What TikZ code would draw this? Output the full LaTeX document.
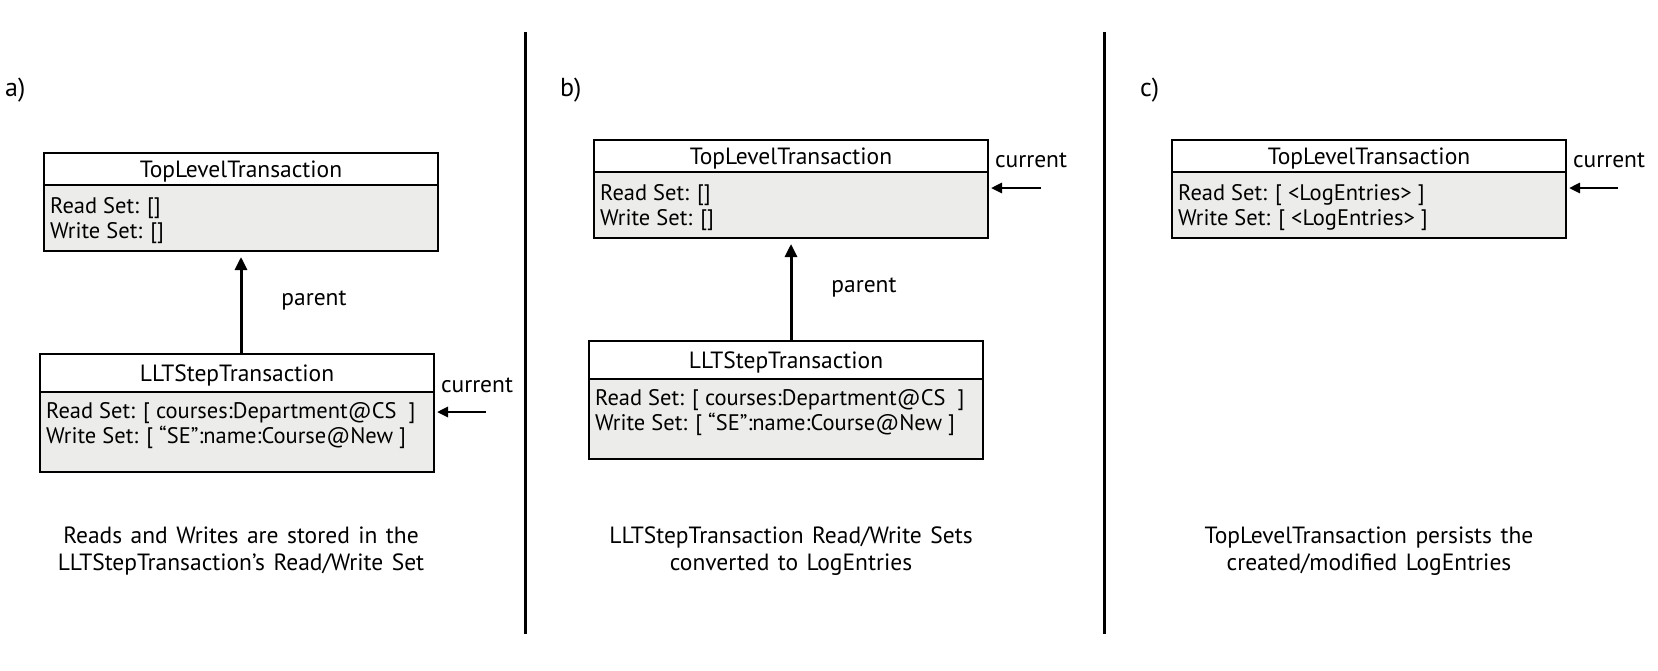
\documentclass[tikz,border=0pt]{standalone}
\usepackage{fontspec}
\setmainfont{PT Sans}
\usetikzlibrary{arrows.meta}
\definecolor{bodygray}{RGB}{236,237,235}
\newcommand{\widespaces}{\spaceskip=0.36em plus 0.1em\relax}
\tikzset{
  hdr/.style={draw=black, line width=2pt, fill=white, minimum width=394pt, inner sep=0pt, text height=21pt, text depth=4pt},
  bdy/.style={draw=black, line width=2pt, fill=bodygray, minimum width=394pt, inner sep=0pt},
  txt/.style={anchor=base west, inner sep=0pt, font=\fontsize{22.5}{25}\selectfont},
  lbl/.style={inner sep=0pt},
  panel/.style={inner sep=0pt, anchor=west, font=\fontsize{26}{28}\selectfont},
  captxt/.style={align=center, inner sep=0pt, font=\fontsize{23.5}{26.5}\selectfont\widespaces},
  parr/.style={line width=3pt, -{Triangle[length=13pt,width=12pt]}, shorten >=5pt},
  carr/.style={line width=2.6pt, -{Triangle[length=11pt,width=10pt]}, shorten >=2pt},
  divider/.style={line width=3pt}
}
\begin{document}
\begin{tikzpicture}[x=1pt,y=-1pt,font=\fontsize{23.5}{25}\selectfont]
\useasboundingbox (0,0) rectangle (1658,670);

% dividers
\coordinate (d1t) at (525.5,32);
\coordinate (d1b) at (525.5,634);
\coordinate (d2t) at (1104,32);
\coordinate (d2b) at (1104,634);
\draw[divider] (d1t) -- (d1b);
\draw[divider] (d2t) -- (d2b);

% panel labels
\node[panel] (la) at (5,90) {a)};
\node[panel] (lb) at (560,90) {b)};
\node[panel] (lc) at (1140,90) {c)};

% ---------- panel a ----------
\node[hdr, minimum height=32pt] (topAh) at (241,169) {TopLevelTransaction};
\node[bdy, minimum height=66pt] (topAb) at (241,218) {};
\node[txt] (topAr) at (50,213) {Read Set: []};
\node[txt] (topAw) at (50,238) {Write Set: []};

\node[hdr, minimum height=38pt] (lltAh) at (237,373) {LLTStepTransaction};
\node[bdy, minimum height=80pt] (lltAb) at (237,432) {};
\node[txt] (lltAr) at (46,418) {Read Set: [ courses:Department@CS~~]};
\node[txt] (lltAw) at (46,443) {Write Set: [ “SE”:name:Course@New ]};

\draw[parr] (lltAh.north -| topAb.south) -- (topAb.south);
\node[lbl] (parA) at (314,301) {parent};

\node[lbl] (curA) at (477,385) {current};
\coordinate (curAs) at (486,412);
\draw[carr] (curAs) -- (curAs -| lltAb.east);

\node[captxt] (capA) at (241,551) {Reads and Writes are stored in the\\LLTStepTransaction’s Read/Write Set};

% ---------- panel b ----------
\node[hdr, minimum height=32pt] (topBh) at (791,156) {TopLevelTransaction};
\node[bdy, minimum height=66pt] (topBb) at (791,205) {};
\node[txt] (topBr) at (600,200) {Read Set: []};
\node[txt] (topBw) at (600,225) {Write Set: []};

\node[hdr, minimum height=38pt] (lltBh) at (786,360) {LLTStepTransaction};
\node[bdy, minimum height=80pt] (lltBb) at (786,419) {};
\node[txt] (lltBr) at (595,405) {Read Set: [ courses:Department@CS~~]};
\node[txt] (lltBw) at (595,430) {Write Set: [ “SE”:name:Course@New ]};

\draw[parr] (lltBh.north -| topBb.south) -- (topBb.south);
\node[lbl] (parB) at (864,288) {parent};

\node[lbl] (curB) at (1031,160) {current};
\coordinate (curBs) at (1041,188);
\draw[carr] (curBs) -- (curBs -| topBb.east);

\node[captxt] (capB) at (791,551) {LLTStepTransaction Read/Write Sets\\converted to LogEntries};

% ---------- panel c ----------
\node[hdr, minimum height=32pt] (topCh) at (1369,156) {TopLevelTransaction};
\node[bdy, minimum height=66pt] (topCb) at (1369,205) {};
\node[txt] (topCr) at (1178,200) {Read Set: [ <LogEntries> ]};
\node[txt] (topCw) at (1178,225) {Write Set: [ <LogEntries> ]};

\node[lbl] (curC) at (1609,160) {current};
\coordinate (curCs) at (1618,188);
\draw[carr] (curCs) -- (curCs -| topCb.east);

\node[captxt] (capC) at (1369,551) {TopLevelTransaction persists the\\created/modified LogEntries};
\end{tikzpicture}
\end{document}
